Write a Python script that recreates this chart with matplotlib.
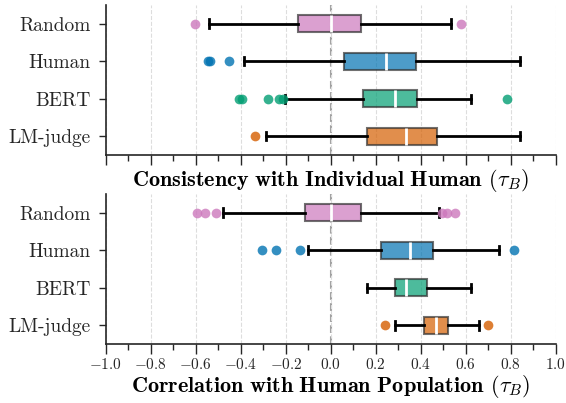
import numpy as np
import matplotlib.pyplot as plt
from matplotlib.ticker import MultipleLocator

plt.rcParams['font.family'] = 'cmr10'
plt.rcParams['mathtext.fontset'] = 'cm'
plt.rcParams['axes.formatter.use_mathtext'] = True
plt.rcParams['text.color'] = '#262626'
plt.rcParams['xtick.color'] = '#262626'
plt.rcParams['ytick.color'] = '#262626'

models = ['Random', 'Human', 'BERT', 'LM-judge']
colors = ['#cc78bc', '#0173b2', '#029e73', '#d55e00']

# (whisker low, q1, median, q3, whisker high) per model
indiv_stats = [
    (-0.541, -0.148, 0.0, 0.133, 0.533),
    (-0.388, 0.059, 0.244, 0.378, 0.842),
    (-0.203, 0.144, 0.284, 0.381, 0.625),
    (-0.289, 0.160, 0.332, 0.474, 0.842),
]
indiv_fliers = [
    [-0.603, 0.578],
    [-0.544, -0.536, -0.452],
    [-0.410, -0.393, -0.281, -0.230, -0.212, 0.781],
    [-0.336],
]

pop_stats = [
    (-0.479, -0.114, 0.0, 0.132, 0.479),
    (-0.102, 0.224, 0.351, 0.455, 0.748),
    (0.163, 0.286, 0.332, 0.427, 0.625),
    (0.287, 0.415, 0.467, 0.523, 0.659),
]
pop_fliers = [
    [-0.597, -0.559, -0.511, 0.496, 0.516, 0.551],
    [-0.304, -0.244, -0.136, 0.815],
    [],
    [0.241, 0.699],
]

xlabels = [r'$\mathbf{Consistency\ with\ Individual\ Human}$ ($\tau_B$)',
           r'$\mathbf{Correlation\ with\ Human\ Population}$ ($\tau_B$)']


def draw_panel(ax, stats, fliers, xlabel, show_ticklabels):
    positions = np.arange(len(models))
    for i, (s, fl) in enumerate(zip(stats, fliers)):
        st = dict(whislo=s[0], q1=s[1], med=s[2], q3=s[3], whishi=s[4], fliers=fl)
        ax.bxp([st], positions=[positions[i]], vert=False, widths=0.45,
               capwidths=0.22, patch_artist=True,
               boxprops=dict(facecolor=colors[i], alpha=0.7, edgecolor='#333333', linewidth=1.5),
               medianprops=dict(color='white', linewidth=2),
               whiskerprops=dict(color='black', linewidth=2),
               capprops=dict(color='black', linewidth=2),
               flierprops=dict(marker='o', markerfacecolor=colors[i], markeredgecolor='none',
                               markersize=7, alpha=0.8),
               zorder=3)
    ax.set_ylim(3.5, -0.5)
    ax.set_yticks(positions)
    ax.set_yticklabels(models, fontsize=14)
    ax.set_xlim(-1.0, 1.0)
    ax.xaxis.set_major_locator(MultipleLocator(0.2))
    ax.xaxis.set_minor_locator(MultipleLocator(0.1))
    ax.grid(axis='x', which='major', linestyle='--', color='#dddddd', linewidth=0.8, zorder=0)
    ax.axvline(0, color='#a0a0a0', linestyle='--', linewidth=1.5, zorder=1)
    ax.tick_params(axis='x', which='major', length=7, width=1, labelsize=11, pad=2)
    ax.tick_params(axis='x', which='minor', length=4, width=1)
    ax.tick_params(axis='y', length=5, width=1, pad=6)
    ax.spines['top'].set_visible(False)
    ax.spines['right'].set_visible(False)
    for sp in ('left', 'bottom'):
        ax.spines[sp].set_linewidth(1.2)
        ax.spines[sp].set_color('#262626')
    if not show_ticklabels:
        ax.tick_params(axis='x', labelbottom=False)
    ax.set_xlabel(xlabel, fontsize=16, labelpad=1)


fig = plt.figure(figsize=(5.66, 4.03), dpi=100)
ax1 = fig.add_axes([0.187, 0.615, 0.795, 0.373])
ax2 = fig.add_axes([0.187, 0.146, 0.795, 0.373])

draw_panel(ax1, indiv_stats, indiv_fliers, xlabels[0], False)
draw_panel(ax2, pop_stats, pop_fliers, xlabels[1], True)

fig.savefig('out.png', dpi=100)
